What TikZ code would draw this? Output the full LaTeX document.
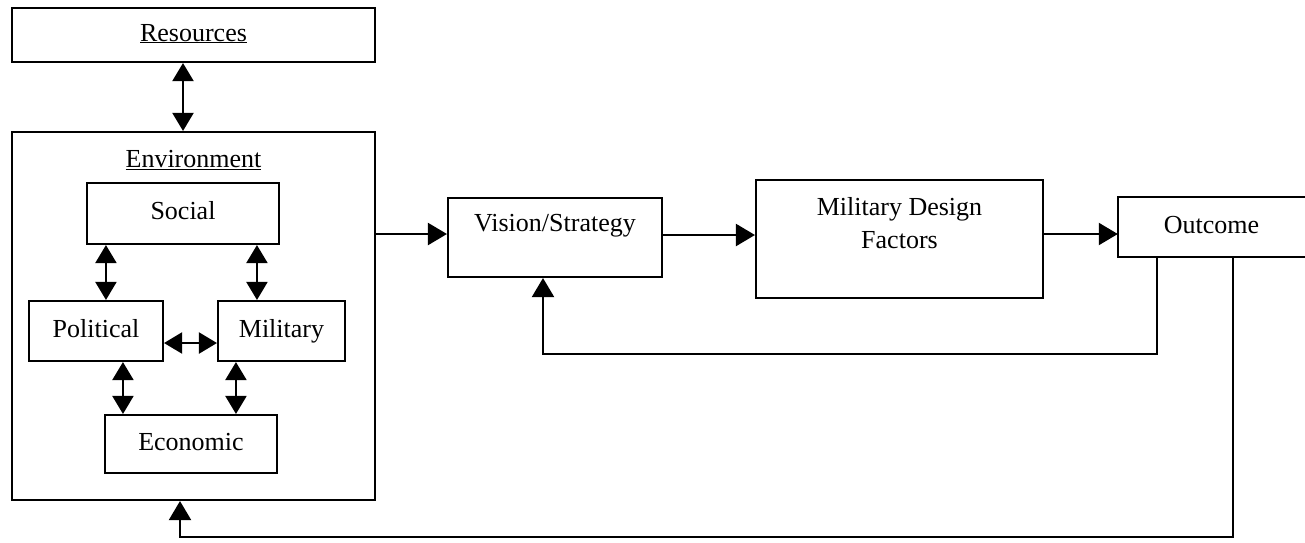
\documentclass[tikz,border=0pt]{standalone}
\usepackage{fontspec}
\setmainfont{Liberation Serif}
\usetikzlibrary{arrows.meta}
\begin{document}
\begin{tikzpicture}[x=1pt,y=-1pt,
  every node/.style={font=\fontsize{26}{33}\selectfont},
  box/.style={draw,line width=2.1pt,inner sep=0pt,align=center,text height=17pt,text depth=5pt},
  lbl/.style={inner sep=0pt,align=center},
  tip/.style={-{Triangle[length=19pt,width=22pt]}},
  link/.style={line width=2.1pt,tip},
  both/.style={line width=2.1pt,{Triangle[length=18pt,width=21pt]}-{Triangle[length=18pt,width=21pt]}}]
\useasboundingbox (0,0) rectangle (1305,542);

% resources and the environment block
\node[box,minimum width=363pt,minimum height=54pt] (res) at (193.5,35) {\underline{Resources}};
\node[box,minimum width=363pt,minimum height=368pt] (env) at (193.5,316) {};
\node[lbl] (envlbl) at (193.5,160) {\underline{Environment}};

% the four sectors inside the environment
\node[box,minimum width=192pt,minimum height=61pt] (soc) at (183,213.5) {Social};
\node[box,minimum width=134pt,minimum height=60pt] (pol) at (96,331) {Political};
\node[box,minimum width=127pt,minimum height=60pt] (mil) at (281.5,331) {Military};
\node[box,minimum width=172pt,minimum height=58pt] (eco) at (191,444) {Economic};

% main chain
\node[box,minimum width=214pt,minimum height=79pt] (vis) at (555,237.5) {};
\node[lbl,text height=17pt,text depth=5pt] (vislbl) at (555,225) {Vision/Strategy};
\node[box,minimum width=287pt,minimum height=118pt] (mdf) at (899.5,239) {};
\node[lbl] (mdflbl) at (899.5,223.5) {Military Design\\Factors};
\node[lbl,minimum width=187pt,minimum height=60pt,text height=17pt,text depth=5pt] (out) at (1211.5,227) {Outcome};
\draw[line width=2.1pt] (out.north east) -- (out.north west) -- (out.south west) -- (out.south east);

% two-way links
\draw[both] (res.south) ++(-10.5pt,0) coordinate (r1) (r1) -- (r1 |- env.north);
\draw[both] ([xshift=20pt]soc.south west) -- ([xshift=78pt]pol.north west);
\draw[both] ([xshift=171pt]soc.south west) -- ([xshift=40pt]mil.north west);
\draw[both] ([xshift=95pt]pol.south west) -- ([xshift=19pt]eco.north west);
\draw[both] ([xshift=19pt]mil.south west) -- ([xshift=132pt]eco.north west);
\draw[both] ([yshift=-12pt]pol.east) -- ([yshift=-12pt]mil.west);

% forward chain
\coordinate (vin) at ([yshift=3.5pt]vis.west);
\coordinate (vout) at ([yshift=2.5pt]vis.east);
\coordinate (oin) at ([yshift=-7pt]out.west);
\draw[link] (env.east |- vin) -- (vin);
\draw[link] (vout) -- (mdf.west |- vout);
\draw[link] (mdf.east |- oin) -- (oin);

% feedback loops
\coordinate (fb1) at (543,354);
\coordinate (fb2) at (180,537);
\draw[link] ([xshift=39pt]out.south west) |- (fb1) -- (fb1 |- vis.south);
\draw[link] ([xshift=115pt]out.south west) |- (fb2) -- (fb2 |- env.south);
\end{tikzpicture}
\end{document}
